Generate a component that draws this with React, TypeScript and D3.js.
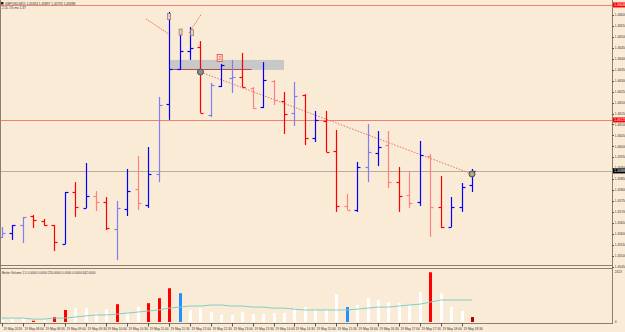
import React, { useEffect } from 'react';
import * as d3 from 'd3';

const timeLabels = [
  '19 May 2016', '19 May 08:00', '19 May 08:30', '19 May 09:00', '19 May 09:30', '19 May 10:00',
  '19 May 10:30', '19 May 11:00', '19 May 11:30', '19 May 12:00', '19 May 12:30', '19 May 13:00',
  '19 May 13:30', '19 May 14:00', '19 May 14:30', '19 May 15:00', '19 May 15:30', '19 May 16:00',
  '19 May 16:30', '19 May 17:00', '19 May 17:30', '19 May 18:00', '19 May 18:30',
];

const opens = [1.45587, 1.45605, 1.45641, 1.45682, 1.45659, 1.45641, 1.45554, 1.45792, 1.45719, 1.45774, 1.45746, 1.45623, 1.45714, 1.45805, 1.45732, 1.45874, 1.46194, 1.46353, 1.46436, 1.46454, 1.46143, 1.46276, 1.46312, 1.46317, 1.46267, 1.46180, 1.46299, 1.46207, 1.46153, 1.46235, 1.46038, 1.46116, 1.45979, 1.45728, 1.45710, 1.45906, 1.45970, 1.46006, 1.45837, 1.45778, 1.45746, 1.45956, 1.45723, 1.45632, 1.45723, 1.45824];
const highs = [1.45632, 1.45641, 1.45678, 1.45687, 1.45669, 1.45641, 1.45792, 1.45837, 1.45924, 1.45796, 1.45769, 1.45751, 1.45897, 1.45956, 1.45997, 1.46226, 1.46614, 1.46527, 1.46545, 1.46481, 1.46290, 1.46376, 1.46395, 1.46427, 1.46271, 1.46385, 1.46303, 1.46248, 1.46294, 1.46239, 1.46162, 1.46162, 1.46075, 1.45783, 1.45929, 1.46102, 1.46070, 1.46070, 1.45906, 1.45888, 1.46025, 1.45965, 1.45865, 1.45769, 1.45833, 1.45897];
const lows = [1.45582, 1.45573, 1.45559, 1.45627, 1.45637, 1.45522, 1.45554, 1.45678, 1.45719, 1.45705, 1.45618, 1.45481, 1.45682, 1.45710, 1.45719, 1.45837, 1.46121, 1.46349, 1.46395, 1.46153, 1.46134, 1.46271, 1.46244, 1.46271, 1.46171, 1.46175, 1.46189, 1.46057, 1.46093, 1.46006, 1.46020, 1.45974, 1.45701, 1.45710, 1.45701, 1.45837, 1.45910, 1.45810, 1.45701, 1.45719, 1.45728, 1.45587, 1.45627, 1.45632, 1.45701, 1.45792];
const closes = [1.45605, 1.45641, 1.45678, 1.45664, 1.45641, 1.45564, 1.45792, 1.45723, 1.45774, 1.45746, 1.45627, 1.45719, 1.45796, 1.45742, 1.45874, 1.46189, 1.46353, 1.46436, 1.46449, 1.46153, 1.46280, 1.46372, 1.46317, 1.46271, 1.46175, 1.46303, 1.46212, 1.46148, 1.46230, 1.46038, 1.46121, 1.45974, 1.45728, 1.45710, 1.45906, 1.45974, 1.45997, 1.45837, 1.45774, 1.45742, 1.45961, 1.45723, 1.45632, 1.45723, 1.45815, 1.45888];
const barKinds = ['pb', 'b', 'pb', 'r', 'r', 'r', 'b', 'r', 'b', 'pr', 'r', 'pb', 'b', 'pr', 'b', 'pb', 'b', 'b', 'b', 'r', 'pb', 'b', 'pb', 'r', 'pr', 'b', 'pr', 'r', 'pb', 'r', 'b', 'r', 'r', 'pr', 'b', 'pb', 'b', 'pr', 'r', 'pr', 'b', 'pr', 'r', 'b', 'b', 'b'];

const volumes = [100, 140, 190, 60, 100, 240, 580, 670, 670, 430, 620, 860, 430, 720, 910, 1150, 1630, 1390, 580, 670, 480, 340, 340, 480, 380, 380, 430, 430, 670, 720, 580, 580, 1340, 720, 820, 1150, 1060, 960, 910, 820, 1440, 2400, 1390, 720, 530, 240];
const volKinds = ['w', 'w', 'w', 'r', 'w', 'r', 'r', 'w', 'w', 'w', 'w', 'r', 'w', 'w', 'r', 'r', 'r', 'b', 'w', 'w', 'w', 'w', 'w', 'w', 'w', 'w', 'w', 'w', 'w', 'w', 'w', 'w', 'w', 'b', 'w', 'w', 'w', 'w', 'w', 'w', 'w', 'r', 'w', 'w', 'w', 'dr'];
const volumeMA = [190, 190, 190, 140, 140, 190, 190, 240, 290, 340, 340, 380, 430, 480, 530, 580, 670, 720, 770, 770, 820, 820, 770, 770, 720, 720, 670, 670, 620, 580, 580, 580, 580, 580, 620, 670, 720, 720, 770, 820, 860, 960, 1060, 1060, 1060, 1060];

const priceTicks = [1.466, 1.4655, 1.465, 1.4645, 1.464, 1.4635, 1.463, 1.4625, 1.462, 1.4615, 1.461, 1.4605, 1.46, 1.4595, 1.459, 1.4585, 1.458, 1.4575, 1.457, 1.4565, 1.456, 1.4555, 1.455, 1.4545];
const levelLines = [1.46646, 1.46121];
const trendLine = [{ i: 19, p: 1.4634 }, { i: 45, p: 1.45874 }];
const fanLines = [
  [{ i: 13.8, p: 1.46582 }, { i: 16.1, p: 1.46509 }],
  [{ i: 17.9, p: 1.46518 }, { i: 19.1, p: 1.46605 }],
];
const zone = { i0: 16.1, i1: 27.0, p0: 1.46395, p1: 1.46349 };
const zoneLine = { i0: 16.1, i1: 23.9, p: 1.46353 };

const W = 625;
const H = 332;
const AXIS_X = 612;
const FONT = 'Liberation Sans, Arial, sans-serif';

const colorOf: Record<string, string> = {
  b: '#0000FF',
  pb: '#7F7FF0',
  r: '#FF0000',
  pr: '#FF8080',
};
const volColorOf: Record<string, string> = {
  w: '#FFFFFF',
  r: '#FF0000',
  b: '#1E90FF',
  dr: '#B00000',
};

export default function App() {
  useEffect(() => {
    document.body.style.margin = '0';
  }, []);

  const x = d3.scaleLinear().domain([0, 45]).range([2, 472]);
  const y = d3.scaleLinear().domain([1.455, 1.466]).range([255.9, 15]);
  const vy = d3.scaleLinear().domain([0, 2413]).range([322, 272]);

  const px = (v: number) => Math.round(v) + 0.5;
  const maLine = d3
    .line<number>()
    .x((_, i) => x(i))
    .y((d) => vy(d));

  const last = closes[closes.length - 1];

  return (
    <svg
      width={W}
      height={H}
      style={{ position: 'absolute', left: 0, top: 0, display: 'block' }}
      fontFamily={FONT}
    >
      <rect x={0} y={0} width={W} height={H} fill="#FAEBD7" />

      {/* zone rectangle */}
      <rect
        x={x(zone.i0)}
        y={y(zone.p0)}
        width={x(zone.i1) - x(zone.i0)}
        height={y(zone.p1) - y(zone.p0)}
        fill="#C8C8C8"
      />
      <line
        x1={x(zoneLine.i0)}
        x2={x(zoneLine.i1)}
        y1={px(y(zoneLine.p))}
        y2={px(y(zoneLine.p))}
        stroke="#B05050"
        strokeWidth={1}
      />

      {/* horizontal level lines */}
      {levelLines.map((p, k) => (
        <line key={k} x1={0} x2={AXIS_X} y1={px(y(p))} y2={px(y(p))} stroke="#F08070" strokeWidth={1} />
      ))}
      <line x1={0} x2={AXIS_X} y1={px(y(last))} y2={px(y(last))} stroke="#B8AC9C" strokeWidth={1} />

      {/* trend / fan lines */}
      <line
        x1={x(trendLine[0].i)}
        y1={y(trendLine[0].p)}
        x2={x(trendLine[1].i)}
        y2={y(trendLine[1].p)}
        stroke="#E87060"
        strokeWidth={1}
        strokeDasharray="1.5,1.5"
      />
      {fanLines.map((l, k) => (
        <line
          key={k}
          x1={x(l[0].i)}
          y1={y(l[0].p)}
          x2={x(l[1].i)}
          y2={y(l[1].p)}
          stroke="#E87060"
          strokeWidth={1}
          strokeDasharray="1.5,1"
        />
      ))}

      {/* OHLC bars */}
      {opens.map((o, i) => {
        const cx = px(x(i));
        const c = colorOf[barKinds[i]];
        return (
          <g key={i} stroke={c} strokeWidth={1.2}>
            <line x1={cx} x2={cx} y1={y(highs[i])} y2={y(lows[i])} />
            <line x1={cx - 3} x2={cx} y1={px(y(o))} y2={px(y(o))} />
            <line x1={cx} x2={cx + 3} y1={px(y(closes[i]))} y2={px(y(closes[i]))} />
          </g>
        );
      })}

      {/* markers */}
      <circle cx={x(trendLine[0].i)} cy={y(trendLine[0].p)} r={3} fill="#8C8C8C" stroke="#505050" strokeWidth={1} />
      <circle cx={x(trendLine[1].i)} cy={y(trendLine[1].p)} r={3} fill="#A0A090" stroke="#505050" strokeWidth={1} />
      <circle cx={x(trendLine[1].i)} cy={y(trendLine[1].p)} r={1} fill="#E0C040" />
      <rect x={x(20.6)} y={y(1.4642)} width={5} height={7} fill="#FBE0D0" stroke="#E04040" strokeWidth={0.8} />
      <text x={x(20.6) + 2.5} y={y(1.4642) + 5.5} fontSize={4.5} textAnchor="middle" fill="#E04040">2</text>
      {[{ i: 16, p: 1.46591 }, { i: 17.1, p: 1.4652 }, { i: 18.2, p: 1.46517 }].map((m, k) => (
        <g key={k}>
          <rect x={x(m.i) - 1.5} y={y(m.p) - 3.5} width={3} height={6} fill="#E8D0C0" stroke="#907060" strokeWidth={0.7} />
        </g>
      ))}

      {/* header */}
      <rect x={1} y={2} width={2.5} height={2.5} fill="#222" />
      <text x={5} y={4.6} fontSize={3.2} fill="#333">GBPUSD,M15  1.45824 1.45897 1.45792 1.45888</text>
      <text x={2} y={9.4} fontSize={3.2} fill="#333">2.5L       1% ms      1.37</text>

      {/* frames */}
      <line x1={0.5} x2={0.5} y1={0} y2={323} stroke="#8A8070" />
      <line x1={0} x2={AXIS_X} y1={265.5} y2={265.5} stroke="#8A8070" />
      <line x1={0} x2={AXIS_X} y1={268.5} y2={268.5} stroke="#8A8070" />
      <line x1={0} x2={AXIS_X} y1={323.5} y2={323.5} stroke="#8A8070" />
      <line x1={AXIS_X + 0.5} x2={AXIS_X + 0.5} y1={0} y2={324} stroke="#8A8070" />

      {/* volume subwindow */}
      {volumes.map((v, i) => (
        <rect
          key={i}
          x={Math.round(x(i)) - 1}
          y={vy(v)}
          width={3}
          height={vy(0) - vy(v)}
          fill={volColorOf[volKinds[i]]}
        />
      ))}
      <path d={maLine(volumeMA) || ''} fill="none" stroke="#7FD0C4" strokeWidth={1} />
      <text x={2} y={274.2} fontSize={3.1} fill="#333">
        Better Volume 1.5 0.0000 0.0000 250.0000 0.0000 0.0000 642.0000
      </text>

      {/* price axis */}
      {priceTicks.map((p, k) => (
        <g key={k}>
          <line x1={AXIS_X} x2={AXIS_X + 2} y1={px(y(p))} y2={px(y(p))} stroke="#555" />
          <text x={AXIS_X + 2.8} y={y(p)} dy="0.35em" fontSize={3.2} fill="#333">
            {d3.format('.5f')(p)}
          </text>
        </g>
      ))}
      {levelLines.map((p, k) => (
        <g key={k}>
          <rect x={AXIS_X + 1} y={y(p) - 2.5} width={12} height={5} fill="#FF0000" />
          <text x={AXIS_X + 2.3} y={y(p)} dy="0.35em" fontSize={3.2} fill="#FFF">
            {d3.format('.5f')(p)}
          </text>
        </g>
      ))}
      <rect x={AXIS_X + 1} y={y(last) - 2.5} width={12} height={5} fill="#000" />
      <text x={AXIS_X + 2.3} y={y(last)} dy="0.35em" fontSize={3.2} fill="#FFF">
        {d3.format('.5f')(last)}
      </text>
      <text x={AXIS_X + 2.8} y={271.5} dy="0.35em" fontSize={3.2} fill="#333">2413</text>
      <text x={AXIS_X + 2.8} y={321.5} dy="0.35em" fontSize={3.2} fill="#333">0</text>

      {/* time axis */}
      {timeLabels.map((t, k) => {
        const tx = Math.round(x(k * 2)) + 0.5;
        return (
          <g key={k}>
            <line x1={tx} x2={tx} y1={323} y2={326.5} stroke="#555" />
            <text x={tx + 1} y={329.5} fontSize={3.2} fill="#333">{t}</text>
          </g>
        );
      })}
    </svg>
  );
}
